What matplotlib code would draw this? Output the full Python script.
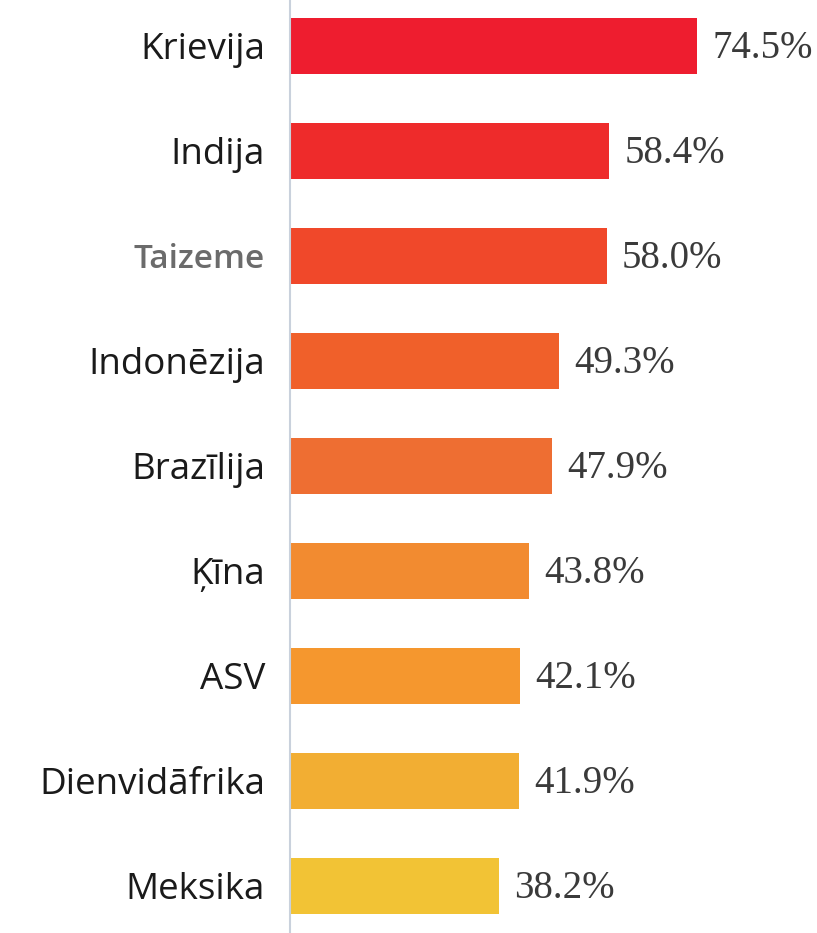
import matplotlib
matplotlib.use("Agg")
import matplotlib.pyplot as plt

# dati
valstis = ["Krievija", "Indija", "Taizeme", "Indonēzija", "Brazīlija",
           "Ķīna", "ASV", "Dienvidāfrika", "Meksika"]
vertibas = [74.5, 58.4, 58.0, 49.3, 47.9, 43.8, 42.1, 41.9, 38.2]
krasas = ["#EE1D2F", "#EE2B2B", "#F0482A", "#F0602A", "#EE6E32",
          "#F28B30", "#F5972E", "#F2AE33", "#F2C335"]

fig = plt.figure(figsize=(8.17, 9.33), dpi=100)
ax = fig.add_axes([290 / 817, 0, 1 - 290 / 817, 1])

y = list(range(len(valstis)))
ax.barh(y, vertibas, height=0.54, color=krasas)

ax.set_xlim(0, 527 / 5.46)
ax.set_ylim(8.448, -0.438)

ax.set_yticks(y)
ax.set_yticklabels(valstis, fontsize=26.5, family="Open Sans", color="#1a1a1a")
ax.tick_params(axis="y", length=0, pad=18)
ax.tick_params(axis="x", bottom=False, labelbottom=False)
ax.get_yticklabels()[2].set_color("#6b6b6b")
ax.get_yticklabels()[2].set_fontweight("semibold")
ax.get_yticklabels()[2].set_fontsize(24)

for s in ["top", "right", "bottom"]:
    ax.spines[s].set_visible(False)
ax.spines["left"].set_color("#c9d1dc")
ax.spines["left"].set_linewidth(1.5)

# vērtības pie stabiņiem
for yi, v in zip(y, vertibas):
    ax.annotate(f"{v:.1f}%", (v, yi), xytext=(11, -2), textcoords="offset points",
                va="center", ha="left", fontsize=28, family="Liberation Serif",
                color="#3a3a3a")

fig.savefig("out.png", dpi=100)
